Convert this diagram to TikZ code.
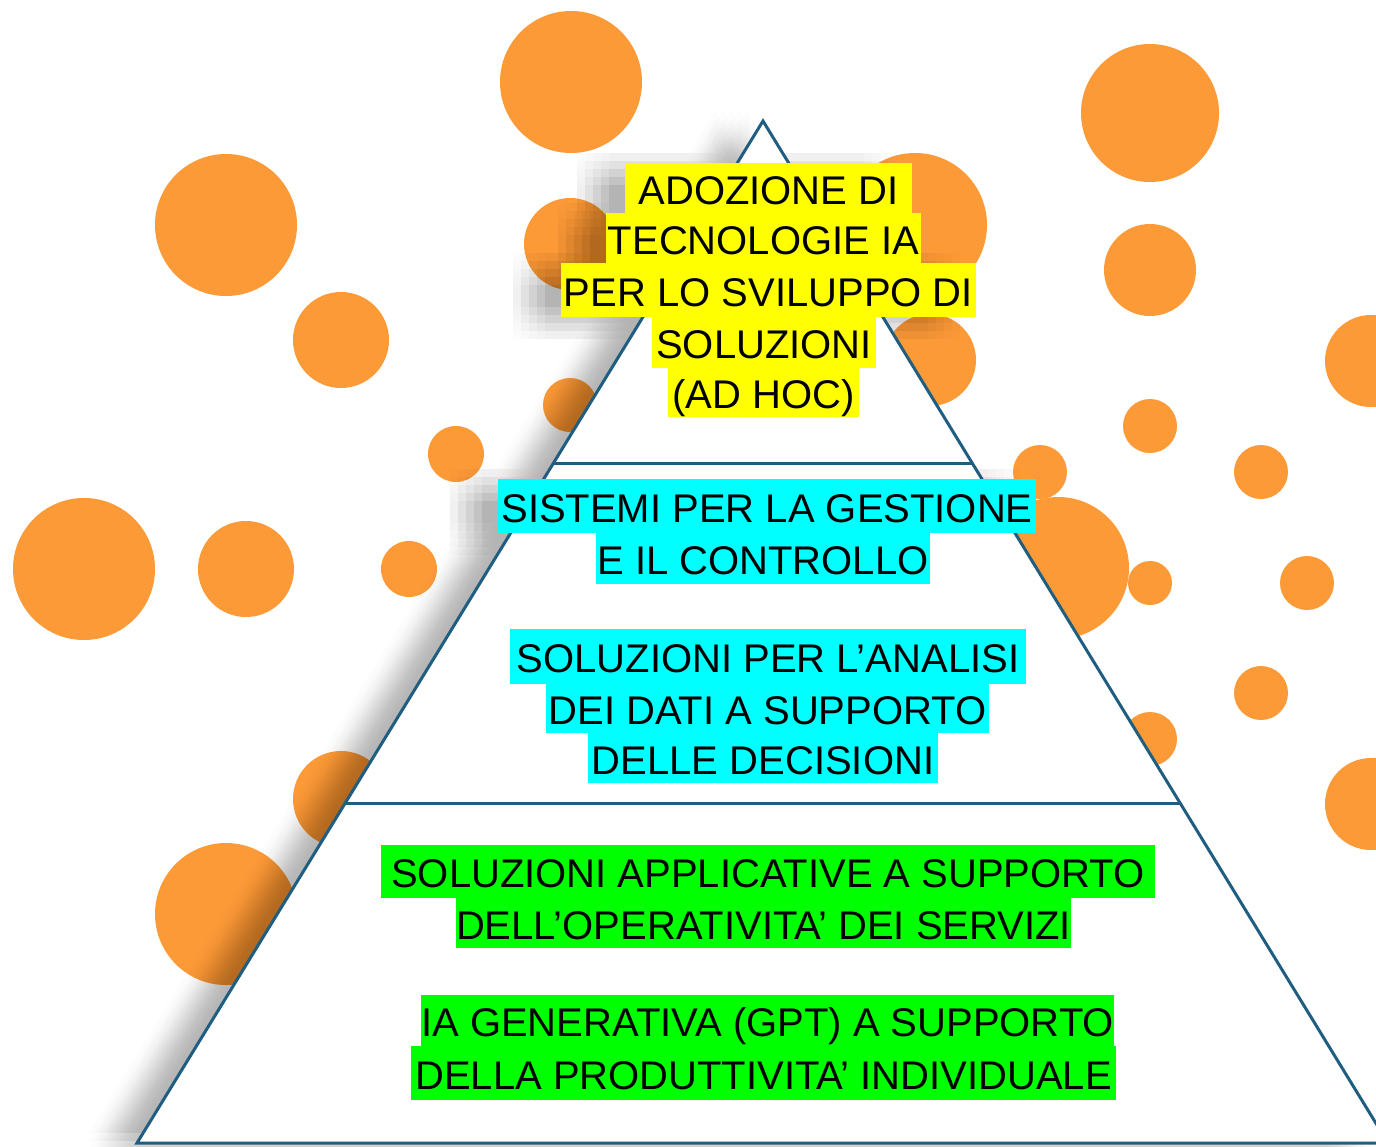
\documentclass[tikz,border=0pt]{standalone}
\usepackage{fontspec}
\setmainfont{Liberation Sans}
\definecolor{orng}{RGB}{253,154,56}
\definecolor{pyrline}{RGB}{31,94,128}
\definecolor{hly}{RGB}{255,255,0}
\definecolor{hlc}{RGB}{0,255,255}
\definecolor{hlg}{RGB}{0,255,0}
\newcommand\hlline[7]{%
  \pgfmathsetmacro\hlw{#3-#2}%
  \pgfmathsetmacro\hlcx{(#2+#3)/2}%
  \pgfmathsetmacro\hlh{(#5-#4)/2+16}%
  \pgfmathsetmacro\hld{(#5-#4)/2-16}%
  \pgfmathsetmacro\hlby{(#4+#5)/2+16}%
  \node[hlbox, fill=#1, minimum width=\hlw pt, text height=\hlh pt, text depth=\hld pt, anchor=base] (#7) at (\hlcx,\hlby) {#6};}
\begin{document}
\begin{tikzpicture}[x=1pt,y=-1pt,
  dot/.style={fill=orng},
  pyr/.style={draw=pyrline, line width=3pt, line join=miter},
  hlbox/.style={inner sep=0pt, font=\fontsize{40pt}{48pt}\selectfont, text=black},
  shadowpath/.style={insert path={
    (763,121) -- (137,1143) -- (1388,1143) -- cycle
    (625,163) -- (625,213) -- (912,213) -- (912,163) -- cycle
    (606,213) -- (606,263) -- (921,263) -- (921,213) -- cycle
    (561,263) -- (561,317) -- (976,317) -- (976,263) -- cycle
    (652,317) -- (652,368) -- (876,368) -- (876,317) -- cycle
    (668,368) -- (668,417) -- (859,417) -- (859,368) -- cycle
    (498,479) -- (498,533) -- (1036,533) -- (1036,479) -- cycle
    (596,533) -- (596,584) -- (930,584) -- (930,533) -- cycle
    (510,629) -- (510,684) -- (1026,684) -- (1026,629) -- cycle
    (546,684) -- (546,733) -- (989,733) -- (989,684) -- cycle
    (588,733) -- (588,783) -- (938,783) -- (938,733) -- cycle}}]
\useasboundingbox (0,0) rectangle (1376,1146);
\clip (0,0) rectangle (1376,1146);
\fill[white] (0,0) rectangle (1376,1146);
% orange dots
\foreach \cx/\cy/\r in {571/82/71, 1150/113/69, 226/225/71, 341/340/48, 570/244/46,
  915/225/72, 1150/270/46, 1371/361/46, 930/360/46, 570/405/27, 456/454/28,
  1150/426/27, 1040/472/27, 1261/472/27, 84/569/71, 246/569/48, 409/569/28,
  1058/568/71, 1150/583/22, 1307/583/27, 1261/693/27, 1150/739/27, 1371/804/46,
  341/799/48, 226/914/71}
  \fill[dot] (\cx,\cy) circle[radius=\r];
% soft shadow of the pyramid and its labels
\foreach \dx in {-16,-8,...,16}
  \foreach \dy in {-16,-8,...,16}
    \fill[black, opacity=0.011, shift={(\dx-32,\dy+6)}, shadowpath];
% pyramid
\coordinate (apex) at (763,121);
\coordinate (bl) at (137,1143);
\coordinate (br) at (1388,1143);
\coordinate (l1) at (553.5,463);
\coordinate (r1) at (972.5,463);
\coordinate (l2) at (345.3,803);
\coordinate (r2) at (1180.7,803);
\fill[white] (apex) -- (bl) -- (br) -- cycle;
\draw[pyr] (apex) -- (bl) -- (br) -- cycle;
\draw[pyr] (l1) -- (r1);
\draw[pyr] (l2) -- (r2);
% labels
\hlline{hly}{625}{912}{163}{213}{ADOZIONE DI}{y1}
\hlline{hly}{606}{921}{213}{263}{TECNOLOGIE IA}{y2}
\hlline{hly}{561}{976}{263}{317}{PER LO SVILUPPO DI}{y3}
\hlline{hly}{652}{876}{317}{368}{SOLUZIONI}{y4}
\hlline{hly}{668}{859}{368}{417}{(AD HOC)}{y5}
\hlline{hlc}{498}{1036}{479}{533}{SISTEMI PER LA GESTIONE}{c1}
\hlline{hlc}{596}{930}{533}{584}{E IL CONTROLLO}{c2}
\hlline{hlc}{510}{1026}{629}{684}{SOLUZIONI PER L’ANALISI}{c3}
\hlline{hlc}{546}{989}{684}{733}{DEI DATI A SUPPORTO}{c4}
\hlline{hlc}{588}{938}{733}{783}{DELLE DECISIONI}{c5}
\hlline{hlg}{381}{1155}{845}{898}{SOLUZIONI APPLICATIVE A SUPPORTO}{g1}
\hlline{hlg}{458}{1069}{898}{948}{DELL’OPERATIVITA’ DEI SERVIZI}{g2}
\hlline{hlg}{422}{1113}{995}{1046}{IA GENERATIVA (GPT) A SUPPORTO}{g3}
\hlline{hlg}{411}{1116}{1046}{1100}{DELLA PRODUTTIVITA’ INDIVIDUALE}{g4}
\end{tikzpicture}
\end{document}
